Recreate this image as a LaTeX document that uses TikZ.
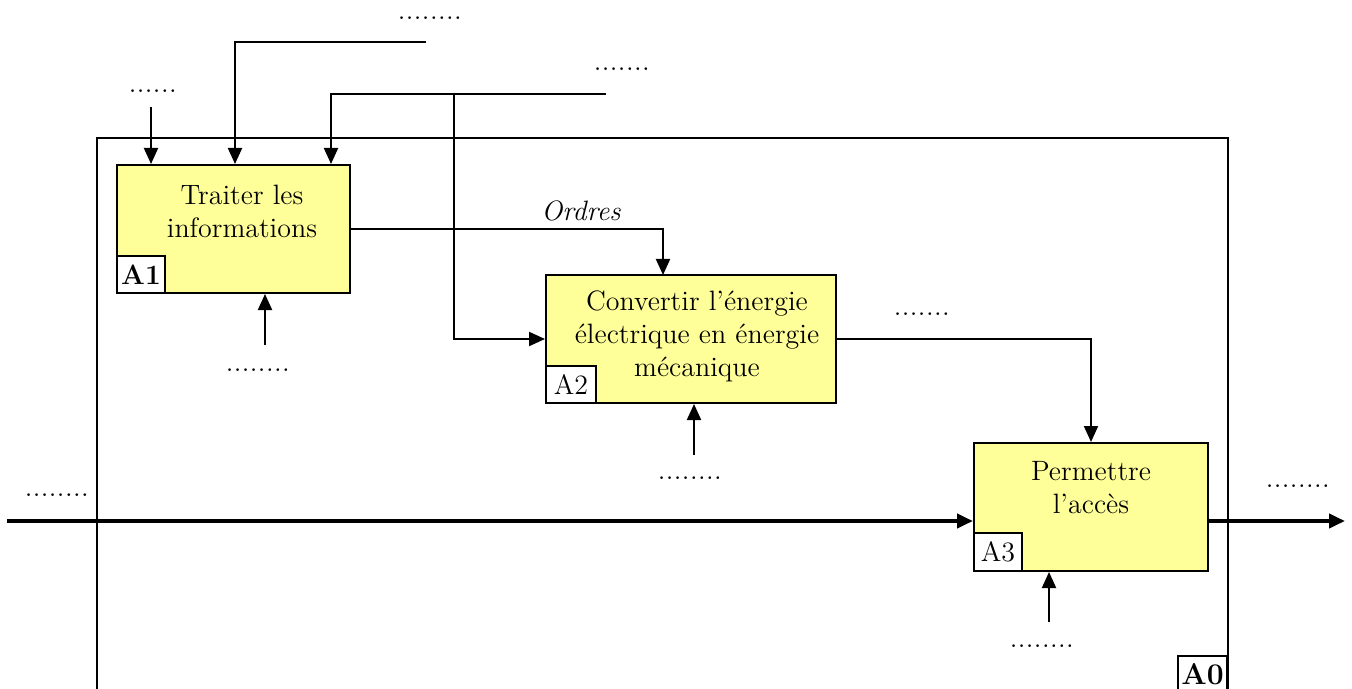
\documentclass[tikz,border=0pt]{standalone}
\usetikzlibrary{arrows.meta,calc}
\definecolor{boxyellow}{RGB}{255,255,153}
\newcommand\dotrow[1]{\foreach \i in {1,...,#1}{.\kern0.2pt}}
\begin{document}
\begin{tikzpicture}[x=0.5pt,y=-0.5pt,
  every node/.style={font=\fontsize{14}{16.5}\selectfont, inner sep=0pt},
  fbox/.style={draw, line width=1pt, fill=boxyellow},
  tag/.style={draw, line width=1pt, fill=white, anchor=south west},
  arr/.style={line width=1pt, -{Triangle[width=7pt,length=8pt]}},
  thickarr/.style={line width=2pt, -{Triangle[width=7pt,length=8pt]}},
  ln/.style={line width=1pt},
  dots/.style={font=\fontsize{14}{16.5}\selectfont, anchor=base, text height=2pt, text depth=0pt}]
\useasboundingbox (0,0) rectangle (1352,689);
% A0 frame
\draw[line width=0.8pt] (97,689) -- (97,138) -- (1228,138) -- (1228,689);
\node[draw, line width=1pt, fill=white, minimum width=24.5pt, minimum height=18.5pt, anchor=north east, font=\fontsize{15}{16}\selectfont\bfseries] (A0) at (1228,655) {A0};
% boxes
\node[fbox, minimum width=116.5pt, minimum height=64pt] (A1) at (233.5,229) {};
\node[tag, minimum width=24pt, minimum height=18.5pt, font=\fontsize{14}{16}\selectfont\bfseries] (A1t) at (A1.south west) {A1};
\node[align=center] (A1x) at (242,211) {Traiter les\\informations};
\node[fbox, minimum width=145pt, minimum height=64pt] (A2) at (691,339) {};
\node[tag, minimum width=25pt, minimum height=18.5pt] (A2t) at (A2.south west) {A2};
\node[align=center] (A2x) at (697,336) {Convertir l’énergie\\électrique en énergie\\mécanique};
\node[fbox, minimum width=117pt, minimum height=64pt] (A3) at (1091,507) {};
\node[tag, minimum width=24pt, minimum height=19pt] (A3t) at (A3.south west) {A3};
\node[align=center] (A3x) at (1091,488) {Permettre\\l’accès};
% labels
\node[dots] (l1) at (153,93) {\dotrow{6}};
\node[dots] (l2) at (430,20) {\dotrow{8}};
\node[dots] (l3) at (622,71) {\dotrow{7}};
\node[dots] (l4) at (258,371) {\dotrow{8}};
\node[dots] (l5) at (922,315) {\dotrow{7}};
\node[dots] (l6) at (690,479) {\dotrow{8}};
\node[dots] (l7) at (57,496) {\dotrow{8}};
\node[dots] (l8) at (1298,487) {\dotrow{8}};
\node[dots] (l9) at (1042,647) {\dotrow{8}};
\node[font=\fontsize{14}{16.5}\selectfont\itshape] (ord) at (581,211) {Ordres};
% coordinates
\coordinate (c1) at (151,107);
\coordinate (c2) at (426,42);
\coordinate (k2) at (235,42);
\coordinate (c3) at (606,94);
\coordinate (k3) at (331,94);
\coordinate (j) at (454,94);
\coordinate (o) at (663,275);
\coordinate (m1) at (265,345);
\coordinate (m2) at (694,455);
\coordinate (m3) at (1049,622);
\coordinate (in) at (7,521);
\coordinate (out) at (1345,521);
% connectors
\draw[arr] (c1) -- (c1 |- A1.north);
\draw[arr] (c2) -- (k2) -- (k2 |- A1.north);
\draw[arr] (c3) -- (k3) -- (k3 |- A1.north);
\draw[arr] (j) |- (A2.west);
\draw[arr] (A1.east) -| (o);
\draw[arr] (m1) -- (m1 |- A1.south);
\draw[arr] (m2) -- (m2 |- A2.south);
\draw[arr] (A2.east) -| (A3.north);
\draw[thickarr] (in) -- (in -| A3.west);
\draw[thickarr] (A3.east |- out) -- (out);
\draw[arr] (m3) -- (m3 |- A3.south);
\end{tikzpicture}
\end{document}
